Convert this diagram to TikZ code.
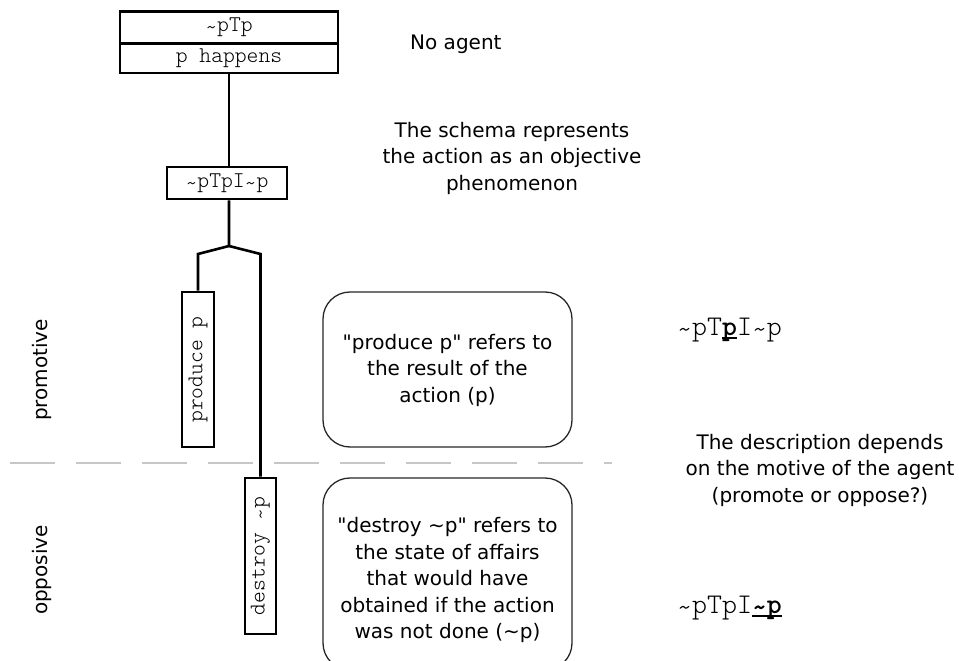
\documentclass[tikz,border=0pt]{standalone}
\usepackage{fontspec}
\setmainfont{DejaVu Sans}[Ligatures=TeXOff]
\newfontfamily\mono{lmmonolt10}[Extension=.otf, UprightFont=*-regular, BoldFont=*-bold]
% bold, heavily underlined part of a formula
\newcommand\bu[1]{\setbox0\hbox{\bfseries #1}\rlap{\rule[-4pt]{\wd0}{2pt}}\box0}
% tilde in running text, and a tilde set lower for the typewriter face
\newcommand\tl{\textasciitilde}
\newcommand\mtl{\raisebox{-0.3ex}{\textasciitilde}}
\begin{document}
\begin{tikzpicture}[x=1pt,y=-1pt,
  termbox/.style={draw, line width=2.6pt, inner sep=0pt,
    font=\mono\fontsize{22.5}{23}\selectfont},
  wire/.style={line width=2.6pt, line join=miter},
  note/.style={draw=black!85, line width=1.3pt, rounded corners=27pt,
    minimum width=249pt, inner sep=0pt},
  txt/.style={font=\fontsize{20}{26.5}\selectfont, align=center, inner sep=0pt},
  formula/.style={font=\mono\fontsize{28.5}{29}\selectfont, inner sep=0pt, anchor=base west},
  divider/.style={draw=black!22, line width=2.6pt, dash pattern=on 45pt off 21pt}]
\useasboundingbox (0,0) rectangle (959,661);

% the term tree
\node[termbox, minimum width=218pt, minimum height=31.5pt] (top) at (229,27.5) {\mtl pTp};
\node[termbox, minimum width=218pt, minimum height=30pt] (happ) at (229,58) {p happens};
\node[termbox, minimum width=120pt, minimum height=32pt] (mid) at (227,183) {\mtl pTpI\mtl p};
\node[termbox, rotate=90, minimum width=155pt, minimum height=32pt] (prod) at (198,369.5) {produce p};
\node[termbox, rotate=90, minimum width=156pt, minimum height=31pt] (dest) at (260.5,556) {destroy \mtl p};

\coordinate (apex) at (229,246);
\coordinate (fl) at (198,254);
\coordinate (fr) at (260.5,254);
\draw[wire] (happ.south -| apex) -- (mid.north -| apex);
\draw[wire] (mid.south -| apex) -- (apex) -- (fl) -- (prod.east);
\draw[wire] (apex) -- (fr) -- (dest.east);

% boundary between the two motives
\coordinate (dl) at (10,463);
\coordinate (dr) at (612,463);
\draw[divider] (dl) -- (dr);

% explanation boxes
\node[note, minimum height=155pt] (pbox) at (447.5,369.5) {};
\node[txt] (ptxt) at (447.5,370) {"produce p" refers to\\the result of the\\action (p)};
\node[note, minimum height=192pt] (dbox) at (447.5,574) {};
\node[txt] (dtxt) at (447.5,580) {"destroy \tl p" refers to\\the state of affairs\\that would have\\obtained if the action\\was not done (\tl p)};

% side remarks
\node[txt, anchor=west] (noag) at (410,44) {No agent};
\node[txt] (schema) at (512,158) {The schema represents\\the action as an objective\\phenomenon};
\node[txt] (desc) at (820,470) {The description depends\\on the motive of the agent\\(promote or oppose?)};
\node[txt, rotate=90] (promo) at (42,370) {promotive};
\node[txt, rotate=90] (oppo) at (42,570) {opposive};

% formulas
\node[formula] (f1) at (677,335) {\mtl pT\bu{p}I\mtl p};
\node[formula] (f2) at (677,613) {\mtl pTpI\bu{\mtl p}};
\end{tikzpicture}
\end{document}
